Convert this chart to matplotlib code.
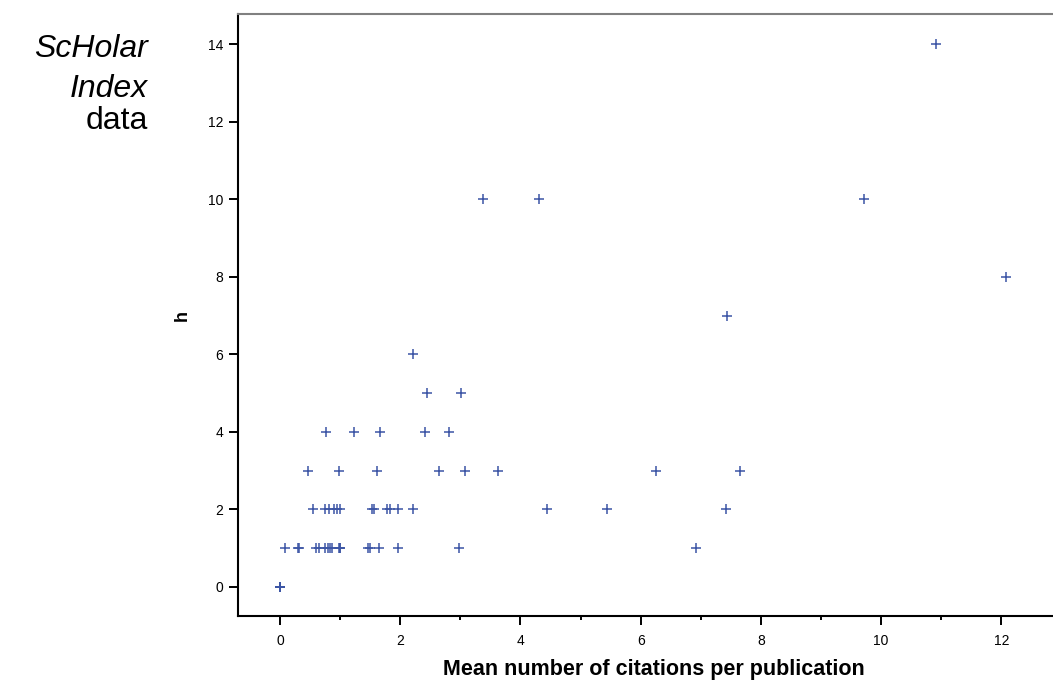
import numpy as np
import matplotlib
matplotlib.use("Agg")
import matplotlib.pyplot as plt
from matplotlib.ticker import MultipleLocator

plt.rcParams['font.family'] = ['Liberation Sans', 'DejaVu Sans']

# mean citations per publication, grouped by h value
x_h0 = [0.0, 0.0, 0.0, 0.0]
x_h1 = [0.08, 0.30, 0.32, 0.59, 0.65, 0.74, 0.80, 0.83, 0.86, 0.98, 1.0, 1.0,
        1.46, 1.50, 1.65, 1.97, 2.97, 6.92]
x_h2 = [0.54, 0.74, 0.82, 0.89, 0.94, 1.0, 1.53, 1.56, 1.78, 1.83, 1.97, 2.22,
        4.44, 5.44, 7.42]
x_h3 = [0.47, 0.98, 1.61, 2.65, 3.08, 3.63, 6.26, 7.65]
x_h4 = [0.77, 1.23, 1.66, 2.41, 2.81]
x_h5 = [2.45, 3.01]
x_h6 = [2.21]
x_h7 = [7.44]
x_h8 = [12.08]
x_h10 = [3.38, 4.31, 9.72]
x_h14 = [10.92]

groups = {0: x_h0, 1: x_h1, 2: x_h2, 3: x_h3, 4: x_h4, 5: x_h5, 6: x_h6,
          7: x_h7, 8: x_h8, 10: x_h10, 14: x_h14}

xs = []
ys = []
for h, vals in groups.items():
    xs += vals
    ys += [h] * len(vals)

fig = plt.figure(figsize=(10.53, 6.82), dpi=100)
ax = fig.add_axes([0.226, 0.0968, 0.774, 0.882])

ax.plot(xs, ys, linestyle='none', marker='+', color='#3c55a5',
        markersize=7, markeredgewidth=1.1)

ax.set_xlim(-0.70, 12.86)
ax.set_ylim(-0.75, 14.77)

ax.xaxis.set_major_locator(MultipleLocator(2))
ax.xaxis.set_minor_locator(MultipleLocator(1))
ax.yaxis.set_major_locator(MultipleLocator(2))

ax.spines['right'].set_visible(False)
ax.spines['top'].set_color('#808080')
ax.spines['top'].set_linewidth(1.5)
ax.spines['left'].set_linewidth(1.5)
ax.spines['bottom'].set_linewidth(1.5)

ax.tick_params(axis='both', which='major', direction='out', length=6.5,
               width=1.4, labelsize=10)
ax.tick_params(axis='x', which='minor', direction='out', length=3, width=1.4)
ax.tick_params(axis='x', which='major', pad=6.5)
ax.tick_params(axis='y', which='major', pad=4)

ax.set_xlabel('Mean number of citations per publication', fontsize=15.5,
              fontweight='bold')
ax.xaxis.set_label_coords(0.51, -0.072)
ax.set_ylabel('h', fontsize=13, fontweight='bold', labelpad=12)

fig.text(0.1405, 1 - 57 / 682, 'ScHolar', ha='right', va='baseline',
         fontsize=23, style='italic')
fig.text(0.1405, 1 - 97 / 682, 'Index', ha='right', va='baseline',
         fontsize=23, style='italic')
fig.text(0.1405, 1 - 129 / 682, 'data', ha='right', va='baseline',
         fontsize=23)

fig.savefig('out.png', dpi=100)
